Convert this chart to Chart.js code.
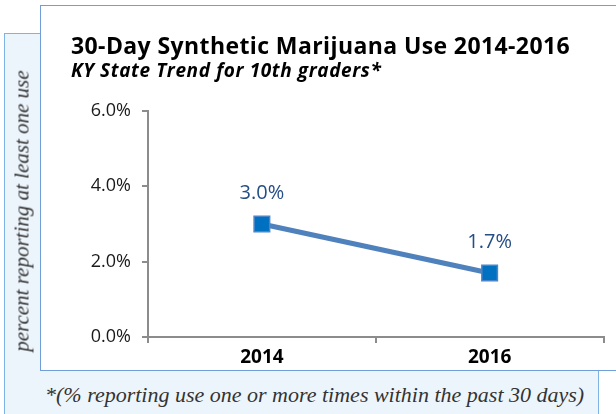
<!doctype html>
<html lang="en">
<head>
    <meta charset="UTF-8">
    <title>30-Day Synthetic Marijuana Use 2014-2016</title>
    <script src="https://cdn.jsdelivr.net/npm/chart.js"></script>
    <style>
        html, body {
            margin: 0;
            width: 616px;
            height: 414px;
            overflow: hidden;
            background: #ffffff;
        }
        #panel {
            position: absolute;
            left: 4px;
            top: 33px;
            width: 593px;
            height: 400px;
            background: #edf5fc;
            border: 1.5px solid #7fb3e3;
        }
        #box {
            position: absolute;
            left: 40px;
            top: 5px;
            width: 600px;
            height: 364px;
            background: #ffffff;
            border: 1.5px solid #6f9fd6;
        }
        #title {
            position: absolute;
            left: 71px;
            top: 29px;
            font-family: "Open Sans", sans-serif;
            font-weight: bold;
            font-size: 23px;
            letter-spacing: 0.4px;
            color: #000;
            white-space: nowrap;
        }
        #subtitle {
            position: absolute;
            left: 71px;
            top: 57px;
            font-family: "Open Sans", sans-serif;
            font-weight: bold;
            font-style: italic;
            font-size: 19px;
            letter-spacing: 0.6px;
            color: #000;
            white-space: nowrap;
        }
        #ytitle {
            position: absolute;
            left: 22px;
            top: 211px;
            transform: translate(-50%, -50%) rotate(-90deg);
            font-family: "Liberation Serif", serif;
            font-style: italic;
            font-size: 21px;
            color: #333;
            white-space: nowrap;
        }
        #note {
            position: absolute;
            left: 45px;
            top: 382px;
            font-family: "Liberation Serif", serif;
            font-style: italic;
            font-size: 22px;
            color: #333;
            white-space: nowrap;
        }
        #chartWrap {
            position: absolute;
            left: 0;
            top: 0;
            width: 616px;
            height: 370px;
        }
    </style>
</head>
<body>
<div id="panel"></div>
<div id="box"></div>
<div id="chartWrap"><canvas id="myChart"></canvas></div>
<div id="title">30-Day Synthetic Marijuana Use 2014-2016</div>
<div id="subtitle">KY State Trend for 10th graders*</div>
<div id="ytitle">percent reporting at least one use</div>
<div id="note">*(% reporting use one or more times within the past 30 days)</div>

<script>
    const years = ['2014', '2016'];
    const useValues = [3.0, 1.7];
    const yTicks = [0, 2, 4, 6];

    // draws the value above each point
    const valueLabels = {
        id: 'valueLabels',
        afterDatasetsDraw(chart) {
            const ctx = chart.ctx;
            const meta = chart.getDatasetMeta(0);
            ctx.save();
            ctx.font = '20px "Open Sans", sans-serif';
            ctx.fillStyle = '#254e87';
            ctx.textAlign = 'center';
            ctx.textBaseline = 'middle';
            meta.data.forEach((pt, i) => {
                ctx.fillText(useValues[i].toFixed(1) + '%', pt.x, pt.y - 31);
            });
            ctx.restore();
        }
    };

    const ctx = document.getElementById('myChart').getContext('2d');
    new Chart(ctx, {
        type: 'line',
        data: {
            labels: years,
            datasets: [{
                data: useValues,
                borderColor: '#4f81bd',
                borderWidth: 5,
                pointStyle: 'rect',
                pointRadius: 11,
                pointBackgroundColor: '#0070c0',
                pointBorderColor: '#4a85c8',
                pointBorderWidth: 1.5,
                fill: false
            }]
        },
        options: {
            responsive: true,
            maintainAspectRatio: false,
            animation: false,
            layout: {
                padding: { left: 8, right: 12, top: 111, bottom: 3 }
            },
            plugins: {
                legend: { display: false },
                tooltip: { enabled: false }
            },
            scales: {
                x: {
                    offset: true,
                    grid: {
                        offset: true,
                        drawOnChartArea: false,
                        drawTicks: true,
                        tickLength: 6,
                        color: '#8c8c8c',
                        lineWidth: 2
                    },
                    border: { display: true, color: '#8c8c8c', width: 2 },
                    ticks: {
                        color: '#000',
                        padding: 3,
                        font: { family: '"Open Sans", sans-serif', size: 19, weight: 'bold' }
                    },
                    afterFit(scale) { scale.height = 30; }
                },
                y: {
                    min: 0,
                    max: 6,
                    afterBuildTicks(scale) {
                        scale.ticks = yTicks.map(v => ({ value: v }));
                    },
                    grid: {
                        drawOnChartArea: false,
                        drawTicks: true,
                        tickLength: 6,
                        color: '#8c8c8c',
                        lineWidth: 2
                    },
                    border: { display: true, color: '#8c8c8c', width: 2 },
                    ticks: {
                        color: '#1a1a1a',
                        padding: 11,
                        font: { family: '"Open Sans", sans-serif', size: 18 },
                        callback: v => v.toFixed(1) + '%'
                    },
                    afterFit(scale) { scale.width = 140; }
                }
            }
        },
        plugins: [valueLabels]
    });
</script>
</body>
</html>
